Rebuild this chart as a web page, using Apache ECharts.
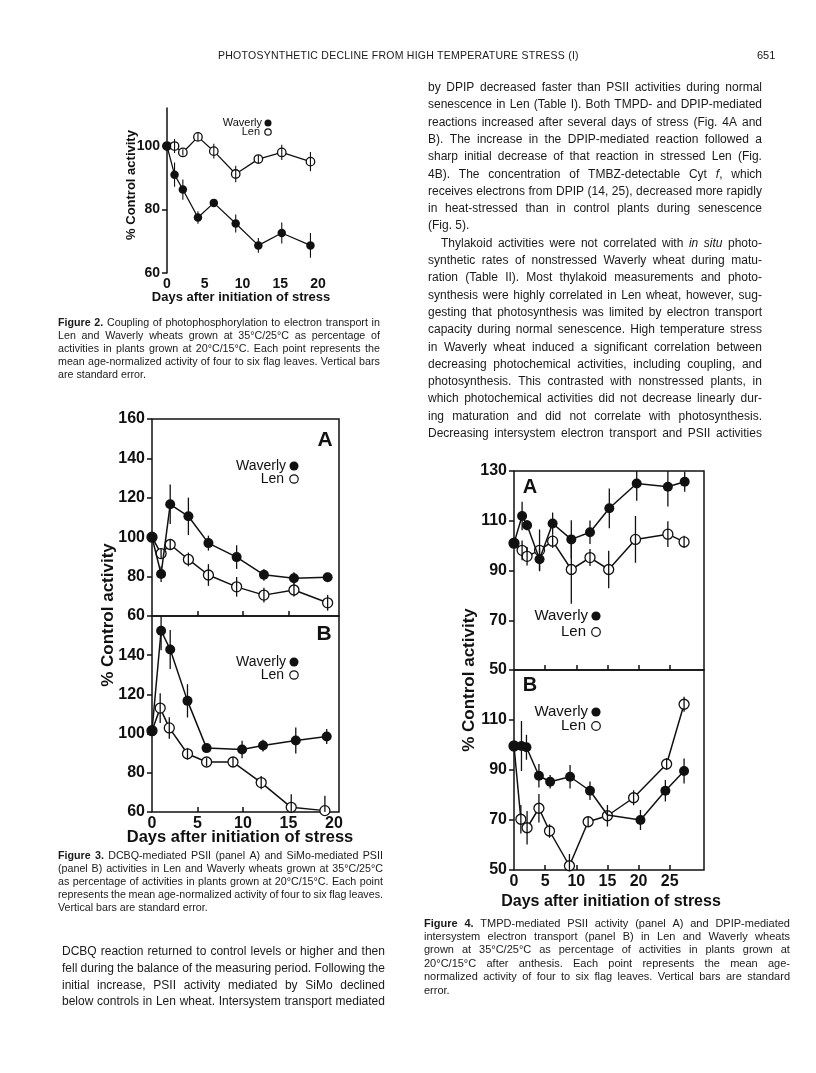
<!DOCTYPE html>
<html>
<head>
<meta charset="utf-8">
<script src="https://cdn.jsdelivr.net/npm/echarts@6/dist/echarts.min.js"></script>
<style>
body { margin: 0; background: #fff; }
#page { position: relative; width: 816px; height: 1073px; overflow: hidden; font-family: "Liberation Sans", Arial, sans-serif; color: #1a1a1a; }
#chart { position: absolute; left: 0; top: 0; width: 816px; height: 1073px; }
.ln { position: absolute; white-space: nowrap; }
.just { display: flex; justify-content: space-between; }
</style>
</head>
<body>
<div id="page"><div id="chart"></div></div>
<script>
// Figure 2 - coupling
const fig2Days = [0, 1, 2.1, 4.1, 6.2, 9.1, 12.1, 15.2, 19];
const fig2Waverly = [100, 91, 86.3, 77.5, 82.1, 75.6, 68.7, 72.6, 68.7];
const fig2WaverlyErr = [0, 3.8, 3.2, 2, 1, 2.8, 2.3, 3.3, 3.9];
const fig2Len = [100, 100, 98, 102.9, 98.4, 91.2, 95.9, 98, 95.1];
const fig2LenErr = [0, 2.2, 1, 1.3, 2.3, 2.6, 1.3, 2.4, 3];

// Figure 3A - DCBQ
const fig3aDays = [0, 1, 2, 4, 6.2, 9.3, 12.3, 15.6, 19.3];
const fig3aWaverly = [100, 81.3, 116.7, 110.6, 97, 89.9, 80.9, 79.2, 79.7];
const fig3aWaverlyErr = [0, 4, 10, 9.5, 3.8, 6, 3, 3, 2];
const fig3aLen = [100, 91.7, 96.3, 88.7, 80.8, 74.8, 70.6, 73.2, 66.7];
const fig3aLenErr = [0, 2.5, 2.5, 3.5, 5.5, 5, 3.8, 3.3, 4];

// Figure 3B - SiMo
const fig3bWaverlyDays = [0, 1, 2, 3.9, 6, 9.9, 12.2, 15.8, 19.2];
const fig3bWaverly = [101.5, 152.5, 142.9, 116.7, 92.6, 91.9, 93.9, 96.5, 98.5];
const fig3bWaverlyErr = [0, 10, 10, 8.5, 2, 4.5, 3, 6.6, 3.8];
const fig3bLenDays = [0, 0.9, 1.9, 3.9, 6, 8.9, 12, 15.3, 19];
const fig3bLen = [101.5, 113, 102.9, 89.7, 85.5, 85.5, 75, 62.4, 60.7];
const fig3bLenErr = [0, 7.6, 5.5, 3, 2, 2.5, 3.4, 6.6, 7.6];

// Figure 4A - TMPD
const fig4aWaverlyDays = [0, 1.3, 2.1, 4.1, 6.2, 9.2, 12.2, 15.3, 19.7, 24.7, 27.4];
const fig4aWaverly = [101, 111.9, 108.2, 94.5, 108.9, 102.5, 105.4, 115, 125, 123.7, 125.7];
const fig4aWaverlyErr = [0, 5.7, 2, 4.4, 4.4, 7.7, 4.7, 8, 7, 8, 4];
const fig4aLenDays = [0, 1.3, 2.1, 4.1, 6.2, 9.2, 12.2, 15.2, 19.5, 24.7, 27.3];
const fig4aLen = [101, 98.1, 95.7, 98.1, 101.8, 90.4, 95.2, 90.4, 102.5, 104.6, 101.5];
const fig4aLenErr = [0, 4, 3.7, 8.4, 2.7, 13.8, 3.4, 7.5, 9.4, 5.2, 2.5];

// Figure 4B - DPIP
const fig4bWaverlyDays = [0, 1.2, 2, 4, 5.8, 9, 12.2, 15, 20.3, 24.3, 27.3];
const fig4bWaverly = [99.6, 99.6, 99.1, 87.7, 85.3, 87.3, 81.7, 72, 70, 81.7, 89.6];
const fig4bWaverlyErr = [0, 10, 5, 4.7, 2.7, 4.7, 3.7, 0, 4, 4.3, 5];
const fig4bLenDays = [0, 1.1, 2.1, 4, 5.7, 8.9, 11.9, 15, 19.2, 24.5, 27.3];
const fig4bLen = [99.6, 70.3, 66.9, 74.7, 65.6, 51.7, 69.3, 71.7, 78.9, 92.4, 116.3];
const fig4bLenErr = [0, 5.7, 6.7, 5.7, 2.7, 4.7, 2, 4.3, 3, 2.3, 3];

// tick / label values
const fig2XLabels = [0, 5, 10, 15, 20];
const fig2YLabels = [60, 80, 100];
const fig3XTicks = [5, 10, 15];
const fig3XLabels = [0, 5, 10, 15, 20];
const fig3aYLabels = [60, 80, 100, 120, 140, 160];
const fig3bYLabels = [60, 80, 100, 120, 140];
const fig4XTicks = [5, 10, 15, 20, 25];
const fig4XLabels = [0, 5, 10, 15, 20, 25];
const fig4aYLabels = [50, 70, 90, 110, 130];
const fig4bYLabels = [50, 70, 90, 110];

const INK = '#111';
const FONT = '"Liberation Sans", Arial, sans-serif';

const xAx = (g, max, ticks, labels, fs, lineShow) => ({
    type: 'value', gridIndex: g, min: 0, max: max,
    splitLine: { show: false },
    axisLine: { show: lineShow, onZero: false, lineStyle: { color: INK, width: 1.5 } },
    axisTick: { show: ticks.length > 0, inside: true, length: 5, customValues: ticks, lineStyle: { color: INK, width: 1.5 } },
    axisLabel: { show: labels.length > 0, customValues: labels, color: INK, fontWeight: 'bold', fontSize: fs, fontFamily: FONT, margin: 4 }
});

const yAx = (g, min, max, ticks, fs, lineShow) => ({
    type: 'value', gridIndex: g, min: min, max: max,
    splitLine: { show: false },
    axisLine: { show: lineShow, onZero: false, lineStyle: { color: INK, width: 1.5 } },
    axisTick: { show: true, inside: false, length: 5, customValues: ticks, lineStyle: { color: INK, width: 1.5 } },
    axisLabel: { customValues: ticks, color: INK, fontWeight: 'bold', fontSize: fs, fontFamily: FONT, margin: 7 }
});

const lineSeries = (g, days, vals, filled, size, lw, z, hidden) => ({
    type: 'line', xAxisIndex: g, yAxisIndex: g, z: z,
    data: days.map((d, i) => (hidden && hidden.includes(i)) ? { value: [d, vals[i]], symbol: 'none' } : [d, vals[i]]),
    symbol: 'circle', symbolSize: size, showAllSymbol: true,
    lineStyle: { color: INK, width: lw },
    itemStyle: filled ? { color: INK } : { color: '#fff', borderColor: INK, borderWidth: 1.3 },
    emphasis: { disabled: true }
});

const errSeries = (g, days, vals, errs, lw) => ({
    type: 'custom', xAxisIndex: g, yAxisIndex: g, z: 6, clip: true,
    data: days.map((d, i) => [d, vals[i] - errs[i], vals[i] + errs[i]]).filter((r, i) => errs[i] > 0),
    encode: { x: 0, y: [1, 2] },
    renderItem: (params, api) => {
        const a = api.coord([api.value(0), api.value(1)]);
        const b = api.coord([api.value(0), api.value(2)]);
        return { type: 'line', shape: { x1: a[0], y1: a[1], x2: b[0], y2: b[1] }, style: { stroke: INK, lineWidth: lw } };
    }
});

const txt = (text, x, y, font, align, rot) => ({
    type: 'text', x: x, y: y, rotation: rot || 0, z: 10,
    style: { text: text, x: 0, y: 0, font: font, fill: INK, align: align || 'center', verticalAlign: 'middle' }
});
const dot = (cx, cy, r, filled) => ({
    type: 'circle', z: 10, shape: { cx: cx, cy: cy, r: r },
    style: filled ? { fill: INK } : { fill: '#fff', stroke: INK, lineWidth: 1.2 }
});
const legend = (xText, xDot, yW, yL, fs, r) => [
    txt('Waverly', xText, yW, fs + 'px ' + FONT, 'right'),
    dot(xDot, yW, r, true),
    txt('Len', xText - 2, yL, fs + 'px ' + FONT, 'right'),
    dot(xDot, yL, r - 0.3, false)
];

const grids = [
    { left: 167, top: 108, width: 151, height: 165, show: false },
    { left: 152, top: 419, width: 187, height: 197, show: true },
    { left: 152, top: 616, width: 187, height: 196, show: true },
    { left: 514, top: 471, width: 190, height: 199, show: true },
    { left: 514, top: 670, width: 190, height: 200, show: true }
].map(g => Object.assign(g, { borderColor: INK, borderWidth: 1.5, backgroundColor: 'transparent', outerBoundsMode: 'none' }));

const option = {
    animation: false,
    backgroundColor: '#fff',
    textStyle: { fontFamily: FONT },
    grid: grids,
    xAxis: [
        xAx(0, 20, [], fig2XLabels, 14, false),
        xAx(1, 20.55, fig3XTicks, [], 16, false),
        xAx(2, 20.55, fig3XTicks, fig3XLabels, 16, false),
        xAx(3, 30.5, fig4XTicks, [], 16, false),
        xAx(4, 30.5, fig4XTicks, fig4XLabels, 16, false)
    ],
    yAxis: [
        yAx(0, 60, 112, fig2YLabels, 14, true),
        yAx(1, 60, 160, fig3aYLabels, 16, false),
        yAx(2, 60, 160, fig3bYLabels, 16, false),
        yAx(3, 50, 130, fig4aYLabels, 16, false),
        yAx(4, 50, 130, fig4bYLabels, 16, false)
    ],
    series: [
        lineSeries(0, fig2Days, fig2Len, false, 8.5, 1.3, 2),
        lineSeries(0, fig2Days, fig2Waverly, true, 8.5, 1.3, 3),
        errSeries(0, fig2Days, fig2Len, fig2LenErr, 1.1),
        errSeries(0, fig2Days, fig2Waverly, fig2WaverlyErr, 1.1),

        lineSeries(1, fig3aDays, fig3aLen, false, 10, 1.5, 2),
        lineSeries(1, fig3aDays, fig3aWaverly, true, 10, 1.5, 3),
        errSeries(1, fig3aDays, fig3aLen, fig3aLenErr, 1.3),
        errSeries(1, fig3aDays, fig3aWaverly, fig3aWaverlyErr, 1.3),

        lineSeries(2, fig3bLenDays, fig3bLen, false, 10, 1.5, 2),
        lineSeries(2, fig3bWaverlyDays, fig3bWaverly, true, 10, 1.5, 3),
        errSeries(2, fig3bLenDays, fig3bLen, fig3bLenErr, 1.3),
        errSeries(2, fig3bWaverlyDays, fig3bWaverly, fig3bWaverlyErr, 1.3),

        lineSeries(3, fig4aLenDays, fig4aLen, false, 10, 1.5, 2),
        lineSeries(3, fig4aWaverlyDays, fig4aWaverly, true, 10, 1.5, 3),
        errSeries(3, fig4aLenDays, fig4aLen, fig4aLenErr, 1.3),
        errSeries(3, fig4aWaverlyDays, fig4aWaverly, fig4aWaverlyErr, 1.3),

        lineSeries(4, fig4bLenDays, fig4bLen, false, 10, 1.5, 2),
        lineSeries(4, fig4bWaverlyDays, fig4bWaverly, true, 10, 1.5, 3, [7]),
        errSeries(4, fig4bLenDays, fig4bLen, fig4bLenErr, 1.3),
        errSeries(4, fig4bWaverlyDays, fig4bWaverly, fig4bWaverlyErr, 1.3)
    ],
    graphic: [
        // figure 2
        txt('Days after initiation of stress', 241, 297, 'bold 13px ' + FONT),
        txt('% Control activity', 131, 185, 'bold 13px ' + FONT, 'center', Math.PI / 2),
        ...legend(262, 268, 123, 132, 11, 3.5),
        // figure 3
        txt('Days after initiation of stress', 240, 837, 'bold 16.5px ' + FONT),
        txt('% Control activity', 108, 615, 'bold 17px ' + FONT, 'center', Math.PI / 2),
        txt('A', 325, 440, 'bold 21px ' + FONT),
        txt('B', 324, 634, 'bold 21px ' + FONT),
        ...legend(286, 294, 466, 479, 14, 4.5),
        ...legend(286, 294, 662, 675, 14, 4.5),
        // figure 4
        txt('Days after initiation of stress', 611, 902, 'bold 16px ' + FONT),
        txt('% Control activity', 469, 680, 'bold 17px ' + FONT, 'center', Math.PI / 2),
        txt('A', 530, 487, 'bold 20px ' + FONT),
        txt('B', 530, 685, 'bold 20px ' + FONT),
        ...legend(588, 596, 616, 632, 15, 4.6),
        ...legend(588, 596, 712, 726, 15, 4.6)
    ]
};

const chart = echarts.init(document.getElementById('chart'), null, { renderer: 'canvas' });
chart.setOption(option);

// page text
const page = document.getElementById('page');
const addLines = (lines, cfg) => {
    lines.forEach((t, i) => {
        const d = document.createElement('div');
        const ind = (cfg.indent && cfg.indent.includes(i)) ? cfg.indentPx : 0;
        d.className = 'ln';
        d.style.left = (cfg.left + ind) + 'px';
        d.style.top = (cfg.top + i * cfg.step - cfg.lh / 2) + 'px';
        d.style.fontSize = cfg.fs + 'px';
        d.style.lineHeight = cfg.lh + 'px';
        if (cfg.last && cfg.last.includes(i)) {
            d.innerHTML = t;
        } else {
            d.classList.add('just');
            d.style.width = (cfg.width - ind) + 'px';
            d.innerHTML = t.split(' ').map(w => '<span>' + w + '</span>').join('');
        }
        page.appendChild(d);
    });
};

const header = document.createElement('div');
header.className = 'ln';
header.style.cssText = 'left:218px;top:48px;font-size:10.5px;line-height:14px;letter-spacing:0.25px;';
header.textContent = 'PHOTOSYNTHETIC DECLINE FROM HIGH TEMPERATURE STRESS (I)';
page.appendChild(header);
const pageNo = document.createElement('div');
pageNo.className = 'ln';
pageNo.style.cssText = 'left:757px;top:48px;font-size:11px;line-height:14px;';
pageNo.textContent = '651';
page.appendChild(pageNo);

addLines([
    'by DPIP decreased faster than PSII activities during normal',
    'senescence in Len (Table I). Both TMPD- and DPIP-mediated',
    'reactions increased after several days of stress (Fig. 4A and',
    'B). The increase in the DPIP-mediated reaction followed a',
    'sharp initial decrease of that reaction in stressed Len (Fig.',
    '4B). The concentration of TMBZ-detectable Cyt <i>f</i>, which',
    'receives electrons from DPIP (14, 25), decreased more rapidly',
    'in heat-stressed than in control plants during senescence',
    '(Fig. 5).',
    'Thylakoid activities were not correlated with <i>in</i> <i>situ</i> photo-',
    'synthetic rates of nonstressed Waverly wheat during matu-',
    'ration (Table II). Most thylakoid measurements and photo-',
    'synthesis were highly correlated in Len wheat, however, sug-',
    'gesting that photosynthesis was limited by electron transport',
    'capacity during normal senescence. High temperature stress',
    'in Waverly wheat induced a significant correlation between',
    'decreasing photochemical activities, including coupling, and',
    'photosynthesis. This contrasted with nonstressed plants, in',
    'which photochemical activities did not decrease linearly dur-',
    'ing maturation and did not correlate with photosynthesis.',
    'Decreasing intersystem electron transport and PSII activities'
], { left: 428, top: 87, step: 17.3, width: 334, fs: 12, lh: 16, last: [8], indent: [9], indentPx: 13 });

addLines([
    'DCBQ reaction returned to control levels or higher and then',
    'fell during the balance of the measuring period. Following the',
    'initial increase, PSII activity mediated by SiMo declined',
    'below controls in Len wheat. Intersystem transport mediated'
], { left: 62, top: 951, step: 16.8, width: 323, fs: 12, lh: 16 });

addLines([
    '<b>Figure</b> <b>2.</b> Coupling of photophosphorylation to electron transport in',
    'Len and Waverly wheats grown at 35°C/25°C as percentage of',
    'activities in plants grown at 20°C/15°C. Each point represents the',
    'mean age-normalized activity of four to six flag leaves. Vertical bars',
    'are standard error.'
], { left: 58, top: 322, step: 13, width: 322, fs: 10.7, lh: 13, last: [4] });

addLines([
    '<b>Figure</b> <b>3.</b> DCBQ-mediated PSII (panel A) and SiMo-mediated PSII',
    '(panel B) activities in Len and Waverly wheats grown at 35°C/25°C',
    'as percentage of activities in plants grown at 20°C/15°C. Each point',
    'represents the mean age-normalized activity of four to six flag leaves.',
    'Vertical bars are standard error.'
], { left: 58, top: 855, step: 13, width: 325, fs: 10.7, lh: 13, last: [4] });

addLines([
    '<b>Figure</b> <b>4.</b> TMPD-mediated PSII activity (panel A) and DPIP-mediated',
    'intersystem electron transport (panel B) in Len and Waverly wheats',
    'grown at 35°C/25°C as percentage of activities in plants grown at',
    '20°C/15°C after anthesis. Each point represents the mean age-',
    'normalized activity of four to six flag leaves. Vertical bars are standard',
    'error.'
], { left: 424, top: 923, step: 13.4, width: 366, fs: 11, lh: 13, last: [5] });
</script>
</body>
</html>
